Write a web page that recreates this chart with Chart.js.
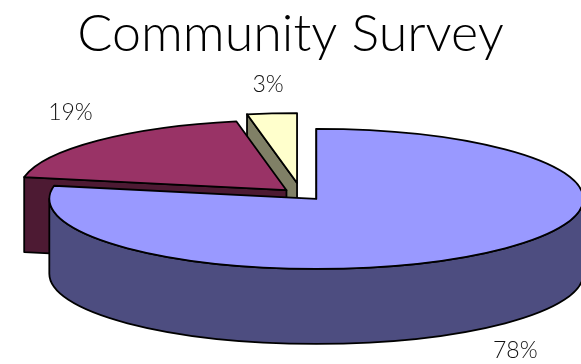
<!DOCTYPE html>
<html>
<head>
<meta charset="utf-8">
<title>Community Survey</title>
<script src="https://cdn.jsdelivr.net/npm/chart.js@4"></script>
<style>
    html, body { margin: 0; padding: 0; background: #fff; overflow: hidden; }
    canvas { display: block; }
</style>
</head>
<body>
<canvas id="grafico" width="581" height="364"></canvas>
<script>
const categories = ['Group A', 'Group B', 'Group C'];
const shares = [78, 19, 3];
const topColors = ['#9999ff', '#993366', '#ffffcc'];
const sideColors = ['#4d4d80', '#4d1a33', '#808066'];

// how far each slice is pulled out of the pie, as a fraction of the radius
const explode = [0.09, 0.077, 0.157];
// where each percentage sits, measured from the slice's own centre
const labelShift = [[199, 152], [-216, -78], [-29, -98]];

const pie3d = {
    cx: 301, cy: 194,   // centre of the pie before slices are pulled out
    rx: 267, ry: 70,    // tilted disc
    depth: 75
};

const tiltedPie = {
    id: 'tiltedPie',
    beforeDatasetsDraw(chart) {
        const ctx = chart.ctx;
        const arcs = chart.getDatasetMeta(0).data;
        const { rx, ry, depth } = pie3d;

        ctx.save();
        ctx.lineWidth = 1.8;
        ctx.lineJoin = 'round';
        ctx.strokeStyle = '#000';

        // back to front, the big slice has to cover the others
        for (let i = arcs.length - 1; i >= 0; i--) {
            const { startAngle: a, endAngle: b } = arcs[i];
            const mid = (a + b) / 2;
            const x = pie3d.cx + Math.cos(mid) * explode[i] * rx;
            const y = pie3d.cy + Math.sin(mid) * explode[i] * ry;
            const sx = x + Math.cos(a) * rx;
            const sy = y + Math.sin(a) * ry;

            // cut face along the start edge
            ctx.beginPath();
            ctx.moveTo(x, y);
            ctx.lineTo(sx, sy);
            ctx.lineTo(sx, sy + depth);
            ctx.lineTo(x, y + depth);
            ctx.closePath();
            ctx.fillStyle = sideColors[i];
            ctx.fill();
            ctx.stroke();

            // outer wall, only the front half of the rim shows
            const from = Math.max(a, 0);
            const to = Math.min(b, Math.PI);
            if (from < to) {
                ctx.beginPath();
                ctx.ellipse(x, y, rx, ry, 0, from, to);
                ctx.ellipse(x, y + depth, rx, ry, 0, to, from, true);
                ctx.closePath();
                ctx.fillStyle = sideColors[i];
                ctx.fill();
                ctx.stroke();
            }

            // top of the slice
            ctx.beginPath();
            ctx.moveTo(x, y);
            ctx.ellipse(x, y, rx, ry, 0, a, b);
            ctx.closePath();
            ctx.fillStyle = topColors[i];
            ctx.fill();
            ctx.stroke();

            // percentage
            ctx.fillStyle = '#111';
            ctx.font = '300 23px Lato';
            ctx.textAlign = 'center';
            ctx.textBaseline = 'middle';
            ctx.fillText(shares[i] + '%', x + labelShift[i][0], y + labelShift[i][1]);
        }
        ctx.restore();
        return false;
    }
};

new Chart(document.getElementById('grafico').getContext('2d'), {
    type: 'pie',
    data: {
        labels: categories,
        datasets: [{
            data: shares,
            backgroundColor: topColors
        }]
    },
    options: {
        responsive: false,
        animation: false,
        plugins: {
            legend: { display: false },
            tooltip: { enabled: false },
            title: {
                display: true,
                text: 'Community Survey',
                color: '#000',
                font: { family: 'Lato', size: 52, weight: 300 },
                padding: { top: 3, bottom: 0 }
            }
        }
    },
    plugins: [tiltedPie]
});
</script>
</body>
</html>
